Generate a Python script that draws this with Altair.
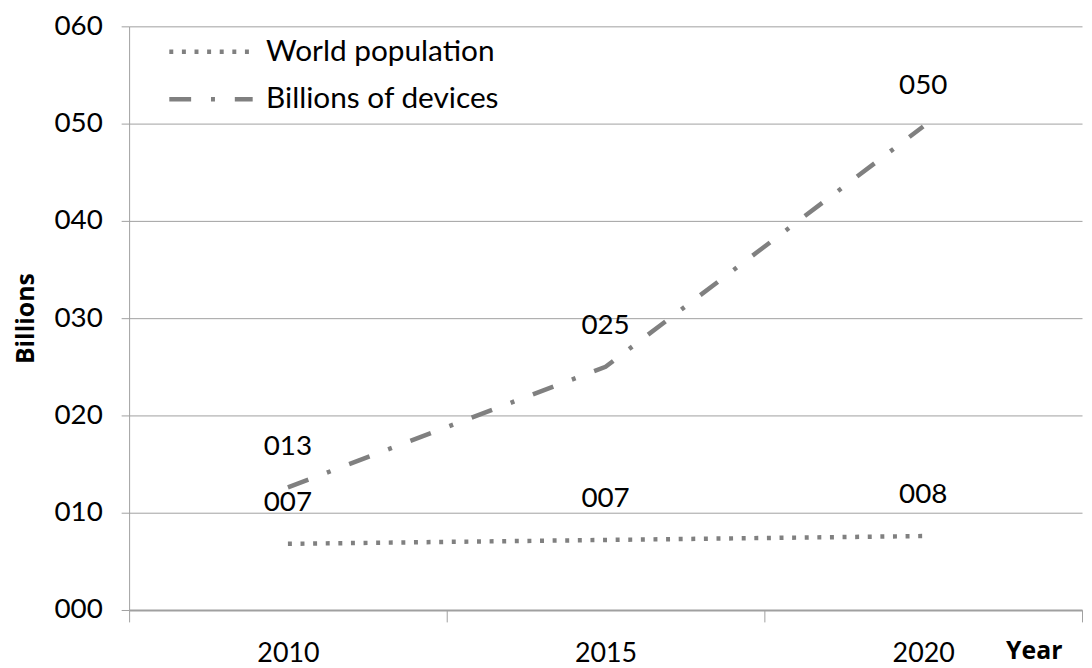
import altair as alt
import pandas as pd

years = ["2010", "2015", "2020"]
population = [6.8, 7.2, 7.6]
devices = [12.6, 25.0, 49.7]
series_names = ["World population", "Billions of devices"]
y_ticks = [0, 10, 20, 30, 40, 50, 60]

rows = []
for name, vals in zip(series_names, [population, devices]):
    for yr, v in zip(years, vals):
        rows.append({"Year": yr, "Value": v, "Series": name})
df = pd.DataFrame(rows)

FONT = "Lato"
TFONT = "Open Sans"
GRAY = "#808080"
AXIS_GRAY = "#a0a0a0"

x_enc = alt.X(
    "Year:N",
    sort=years,
    scale=alt.Scale(type="band", paddingInner=0, paddingOuter=0),
    axis=alt.Axis(
        title="Year",
        titleX=883, titleY=41, titleAlign="left", titleBaseline="middle",
        titleFont=TFONT, titleFontSize=25, titleFontWeight="bold", titleColor="black",
        labelFont=FONT, labelFontSize=27, labelColor="black", labelAngle=0,
        labelPadding=19, tickSize=12, tickBand="extent", tickColor=AXIS_GRAY,
        domainColor=AXIS_GRAY, domainWidth=2, grid=False,
    ),
)
y_enc = alt.Y(
    "Value:Q",
    scale=alt.Scale(domain=[0, 60], nice=False),
    axis=alt.Axis(
        values=y_ticks, format="03d",
        title="Billions",
        titleX=-104, titleY=294, titleAngle=270, titleAlign="center", titleBaseline="middle",
        titleFont=TFONT, titleFontSize=25, titleFontWeight="bold", titleColor="black",
        labelFont=FONT, labelFontSize=28, labelColor="black", labelPadding=19,
        tickSize=8, tickColor=AXIS_GRAY, domainColor=AXIS_GRAY,
        grid=True, gridColor=AXIS_GRAY, gridWidth=1,
    ),
)

lines = alt.Chart(df).mark_line(color=GRAY, strokeWidth=4.5).encode(
    x=x_enc,
    y=y_enc,
    strokeDash=alt.StrokeDash(
        "Series:N",
        scale=alt.Scale(domain=series_names, range=[[4, 8.7], [22, 20, 4, 20]]),
        legend=alt.Legend(
            title=None, orient="none", legendX=50, legendY=-7,
            symbolType="M-1.4,0H1.4", symbolSize=3600,
            symbolStrokeColor=GRAY, symbolStrokeWidth=4.5,
            labelFont=FONT, labelFontSize=30, labelColor="black", labelLimit=600,
            labelOffset=23, rowPadding=0, padding=0,
        ),
    ),
)

labels = alt.Chart(df).mark_text(dy=-41, font=FONT, fontSize=28, color="black").encode(
    x=alt.X("Year:N", sort=years),
    y="Value:Q",
    text=alt.Text("Value:Q", format="03.0f"),
)

chart = (
    alt.layer(lines, labels)
    .properties(
        width=960, height=588,
        autosize=alt.AutoSizeParams(type="none"),
        padding={"left": 122, "top": 16, "right": 2, "bottom": 60},
        background="white",
    )
    .configure_view(stroke=None)
)

chart.save("out.html", embed_options={"renderer": "svg", "actions": False})
